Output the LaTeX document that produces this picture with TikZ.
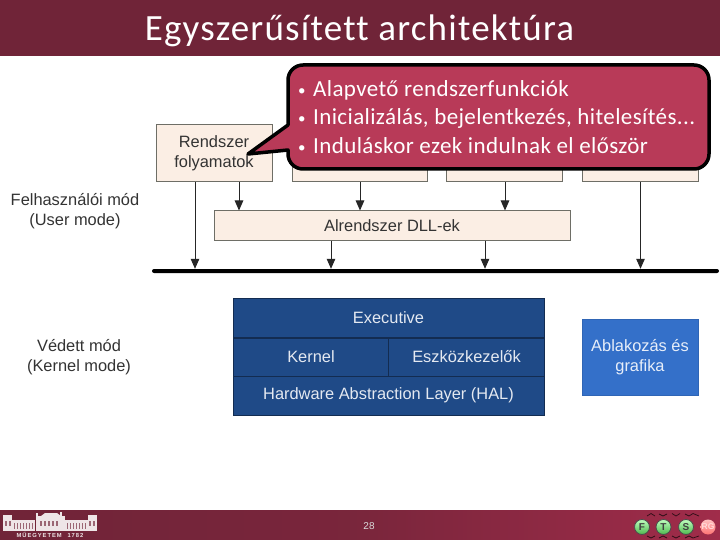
\documentclass[tikz,border=0pt]{standalone}
\usepackage{fontspec}
\setmainfont{Liberation Sans}
\newfontfamily\calibtitle[LetterSpace=3.3,Ligatures=CommonOff]{Carlito}
\newfontfamily\calibbody[LetterSpace=1.7,Ligatures=CommonOff]{Carlito}
\usetikzlibrary{arrows.meta}
\definecolor{hdr}{HTML}{702438}
\definecolor{ftr}{HTML}{A02C4A}
\definecolor{peach}{HTML}{FBEEE4}
\definecolor{boxln}{HTML}{6E6E66}
\definecolor{navy}{HTML}{1F4A87}
\definecolor{winblue}{HTML}{3470C9}
\definecolor{callfill}{HTML}{B83A58}
\definecolor{txt}{HTML}{333333}
\newcommand{\smallbul}{\makebox[15pt][l]{\raisebox{1pt}{\fontsize{15}{15}\selectfont •}}}
\tikzset{
 x=1pt,y=-1pt,
 peachbox/.style={draw=boxln,line width=1pt,fill=peach,inner sep=0pt,align=center,text=txt,font=\fontsize{16.4}{20}\selectfont},
 arr/.style={draw=black!85,line width=1pt,-{Triangle[length=10pt,width=8.5pt]}},
 kern/.style={draw=navy!60!black,line width=1pt,fill=navy,inner sep=0pt,text=white!88!navy,align=center,font=\fontsize{16.4}{20}\selectfont},
 modelabel/.style={align=center,text=txt,font=\fontsize{16.4}{20}\selectfont},
 ball/.style={circle,draw=black!70,line width=.8pt,minimum size=15pt,inner sep=0pt,font=\fontsize{10}{10}\selectfont\bfseries,text=black!75},
 greenball/.style={ball,top color=green!25!white,bottom color=green!60!black!70!white},
 bld/.style={fill=white!88!hdr,draw=none},
 zig/.style={draw=black!60!hdr,line width=.7pt},
}
\begin{document}
\begin{tikzpicture}
\useasboundingbox (0,0) rectangle (720,540);
\fill[white] (0,0) rectangle (720,540);
% header and footer
\fill[hdr] (0,0) rectangle (720,56.5);
\shade[left color=hdr,right color=ftr,middle color=hdr!80!ftr] (0,510) rectangle (720,540);
\node (title) at (359.5,31) [text=white,font=\calibtitle\fontsize{37}{40}\selectfont] {Egyszerűsített architektúra};
\node (pagenum) at (369,526) [text=white!85!black,font=\fontsize{10}{12}\selectfont] {28};
% user mode
\node[peachbox,minimum width=116pt,minimum height=57pt] (rend) at (214,153.5) {Rendszer\\folyamatok};
\node[peachbox,minimum width=135pt,minimum height=57pt] (b2) at (359.5,153.5) {};
\node[peachbox,minimum width=116pt,minimum height=57pt] (b3) at (504,153.5) {};
\node[peachbox,minimum width=116pt,minimum height=57pt] (b4) at (640,153.5) {};
\node[peachbox,minimum width=356pt,minimum height=29pt] (dll) at (392,225.5) {Alrendszer DLL-ek};
\node[fill=black,inner sep=0pt,minimum width=567pt,minimum height=4pt,rounded corners=2pt] (bar) at (435.5,271) {};
\coordinate (xa) at (195,0); \coordinate (xb) at (239,0); \coordinate (xc) at (331,0);
\coordinate (xd) at (360,0); \coordinate (xe) at (505,0); \coordinate (xf) at (485,0); \coordinate (xg) at (640.5,0);
\draw[arr] (xa |- rend.south) -- (xa |- bar.north);
\draw[arr] (xb |- rend.south) -- (xb |- dll.north);
\draw[arr] (xd |- b2.south) -- (xd |- dll.north);
\draw[arr] (xe |- b3.south) -- (xe |- dll.north);
\draw[arr] (xc |- dll.south) -- (xc |- bar.north);
\draw[arr] (xf |- dll.south) -- (xf |- bar.north);
\draw[arr] (xg |- b4.south) -- (xg |- bar.north);
\node[modelabel] (um) at (75,211) {Felhasználói mód\\(User mode)};
\node[modelabel] (km) at (79,357) {Védett mód\\(Kernel mode)};
% kernel block
\node[kern,minimum width=311pt,minimum height=39pt] (exec) at (388.5,318) {Executive};
\node[kern,minimum width=155pt,minimum height=38pt] (kernel) at (311,357) {Kernel};
\node[kern,minimum width=156pt,minimum height=38pt] (eszk) at (466.5,357) {Eszközkezelők};
\node[kern,minimum width=311pt,minimum height=39pt] (hal) at (388.5,395.5) {Hardware Abstraction Layer (HAL)};
\node[draw=winblue!90!black,line width=.6pt,fill=winblue,inner sep=0pt,minimum width=116pt,minimum height=76pt,align=center,text=white!88!winblue,font=\fontsize{16.4}{20}\selectfont] (win) at (640,357) {Ablakozás és\\grafika};
% callout
\draw[fill=callfill,draw=black,line width=3.5pt,line join=round]
  (288,125) -- (248,154) -- (288,150) [rounded corners=15pt] -- (288,169) -- (709,169) -- (709,65) -- (288,65) [sharp corners] -- cycle;
\node[anchor=west,align=left,text=white,inner sep=0pt,font=\calibbody\fontsize{23}{28.5}\selectfont] (calltext) at (298,117)
 {\smallbul Alapvető rendszerfunkciók\\\smallbul Inicializálás, bejelentkezés, hitelesítés...\\\smallbul Induláskor ezek indulnak el először};
% logo left
\fill[bld] (3,515) rectangle (12,531);
\fill[bld] (88,515) rectangle (97,531);
\fill[bld] (12,520) rectangle (35,531);
\fill[bld] (65,520) rectangle (88,531);
\fill[bld] (37,516) rectangle (65,531);
\fill[bld] (41,516) -- (45,513) -- (57,513) -- (61,516) -- cycle;
\fill[bld] (36,531) rectangle (38,513);
\fill[bld] (59.5,531) rectangle (61.5,512);
\foreach \xx in {14,17,...,32,67,70,...,85} \fill[white!30!hdr] (\xx,523) rectangle +(1.4,6);
\foreach \xx in {5,9,89,93,40,44,48,52,56} \fill[white!30!hdr] (\xx,521) rectangle +(1.5,5);
\node (logotext) at (50,535) [text=white!88!hdr,font=\fontsize{5.8}{6}\bfseries\selectfont] {M\,Ű\,E\,G\,Y\,E\,T\,E\,M\quad 1\,7\,8\,2};
% logo right
\draw[zig] (647,516) -- (651,513.5) -- (655,516) (659,514) -- (663,516) -- (667,514) (672,513.5) -- (676,516) -- (680,513.5) (685,514) -- (689,516) -- (693,513.5) -- (699,516);
\draw[zig] (647,536) -- (651,538) -- (655,536) (659,538) -- (663,536) -- (667,538) (672,536) -- (676,538) -- (680,536) (685,538) -- (689,536) -- (693,538) -- (699,536);
\node[greenball] (lf) at (642,527) {F};
\node[greenball] (lt) at (663.5,527) {T};
\node[greenball] (ls) at (686,527) {S};
\node[ball,draw=none,top color=red!25!white,bottom color=red!55!white,font=\fontsize{8.5}{9}\selectfont\bfseries,text=white!85!red] (lr) at (708,527) {RG};
\end{tikzpicture}
\end{document}
